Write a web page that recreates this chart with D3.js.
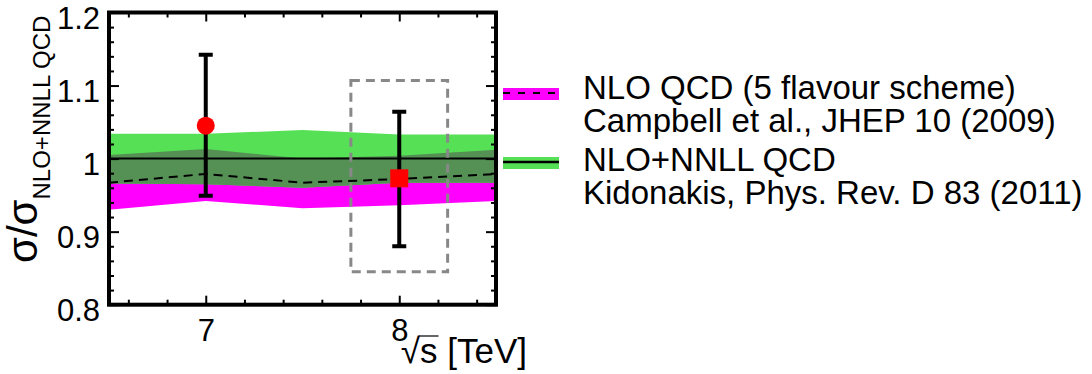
<!DOCTYPE html>
<html>
<head>
<meta charset="utf-8">
<script src="https://cdn.jsdelivr.net/npm/d3@7"></script>
<style>
  html, body { margin: 0; padding: 0; background: #fff; }
  svg { display: block; font-family: "Liberation Sans", Arial, Helvetica, sans-serif; }
</style>
</head>
<body>
<svg id="chart" width="1092" height="374"></svg>
<script>
// Centre-of-mass energies (TeV) at which the theory bands are evaluated
const energies = [6.5, 7, 7.5, 8, 8.5];

// NLO+NNLL QCD (Kidonakis) normalised to itself
const nnllCentral = [1.000, 1.000, 1.000, 1.000, 1.000];
const nnllUp      = [1.034, 1.034, 1.039, 1.033, 1.033];
const nnllDown    = [0.966, 0.965, 0.960, 0.967, 0.967];

// NLO QCD, 5 flavour scheme (Campbell et al.)
const nloCentral = [0.967, 0.979, 0.967, 0.972, 0.979];
const nloUp      = [1.005, 1.013, 1.000, 1.004, 1.012];
const nloDown    = [0.930, 0.942, 0.932, 0.936, 0.942];

// Measurements: ratio to NLO+NNLL with total uncertainty
const measEnergy = [7, 8];
const measValue  = [1.045, 0.973];
const measHigh   = [1.142, 1.064];
const measLow    = [0.949, 0.880];
const measShape  = ["circle", "square"];

// Highlight box around the 8 TeV result
const boxEnergy = [7.75, 8.25];
const boxRatio  = [0.845, 1.107];

// Axis ticks
const xMajor = [7, 8];
const xMinor = [6.6, 6.8, 7.2, 7.4, 7.6, 7.8, 8.2, 8.4];
const yMajor = [0.8, 0.9, 1.0, 1.1, 1.2];
const yMinor = [0.82, 0.84, 0.86, 0.88, 0.92, 0.94, 0.96, 0.98,
                1.02, 1.04, 1.06, 1.08, 1.12, 1.14, 1.16, 1.18];
const yTickText = ["0.8", "0.9", "1", "1.1", "1.2"];

// Legend entries
const legendLines = [
  ["NLO QCD (5 flavour scheme)", "Campbell et al., JHEP 10 (2009)"],
  ["NLO+NNLL QCD", "Kidonakis, Phys. Rev. D 83 (2011)"]
];

const COL_GREEN = "#55e055";
const COL_OVERLAP = "#559155";
const COL_MAGENTA = "#ff00ff";

const svg = d3.select("#chart");
const F = { left: 109, right: 496, top: 12.5, bottom: 304.7 };

const x = d3.scaleLinear().domain([6.5, 8.5]).range([F.left, F.right]);
const y = d3.scaleLinear().domain([0.8, 1.2]).range([F.bottom, F.top]);

const plot = svg.append("g");
svg.append("clipPath").attr("id", "frameClip")
  .append("rect").attr("x", F.left).attr("y", F.top)
  .attr("width", F.right - F.left).attr("height", F.bottom - F.top);
plot.attr("clip-path", "url(#frameClip)");

const rows = energies.map((e, i) => ({
  e, nnllUp: nnllUp[i], nnllDown: nnllDown[i], nnllC: nnllCentral[i],
  nloUp: nloUp[i], nloDown: nloDown[i], nloC: nloCentral[i]
}));

const band = (lo, hi) => d3.area().x(d => x(d.e)).y0(d => y(lo(d))).y1(d => y(hi(d)));
const line = f => d3.line().x(d => x(d.e)).y(d => y(f(d)));

// NLO band
plot.append("path").datum(rows).attr("fill", COL_MAGENTA)
  .attr("d", band(d => d.nloDown, d => d.nloUp));
// NLO+NNLL band
plot.append("path").datum(rows).attr("fill", COL_GREEN)
  .attr("d", band(d => d.nnllDown, d => d.nnllUp));
// Region where the two bands overlap
plot.append("path").datum(rows).attr("fill", COL_OVERLAP)
  .attr("d", band(d => Math.max(d.nnllDown, d.nloDown), d => Math.min(d.nnllUp, d.nloUp)));

// Central values
plot.append("path").datum(rows).attr("fill", "none").attr("stroke", "#000")
  .attr("stroke-width", 2).attr("d", line(d => d.nnllC));
plot.append("path").datum(rows).attr("fill", "none").attr("stroke", "#000")
  .attr("stroke-width", 2).attr("stroke-dasharray", "9,6").attr("d", line(d => d.nloC));

// Dashed box around the 8 TeV point
plot.append("rect")
  .attr("x", x(boxEnergy[0])).attr("y", y(boxRatio[1]))
  .attr("width", x(boxEnergy[1]) - x(boxEnergy[0]))
  .attr("height", y(boxRatio[0]) - y(boxRatio[1]))
  .attr("fill", "none").attr("stroke", "#888").attr("stroke-width", 3)
  .attr("stroke-dasharray", "9,6");

// Measurements with error bars
const meas = measEnergy.map((e, i) => ({ e, v: measValue[i], hi: measHigh[i], lo: measLow[i], shape: measShape[i] }));
const mg = plot.selectAll("g.meas").data(meas).join("g").attr("class", "meas");
mg.append("line").attr("x1", d => x(d.e)).attr("x2", d => x(d.e))
  .attr("y1", d => y(d.lo)).attr("y2", d => y(d.hi))
  .attr("stroke", "#000").attr("stroke-width", 4);
mg.append("line").attr("x1", d => x(d.e) - 7).attr("x2", d => x(d.e) + 7)
  .attr("y1", d => y(d.hi)).attr("y2", d => y(d.hi))
  .attr("stroke", "#000").attr("stroke-width", 4);
mg.append("line").attr("x1", d => x(d.e) - 7).attr("x2", d => x(d.e) + 7)
  .attr("y1", d => y(d.lo)).attr("y2", d => y(d.lo))
  .attr("stroke", "#000").attr("stroke-width", 4);
mg.filter(d => d.shape === "circle").append("circle")
  .attr("cx", d => x(d.e)).attr("cy", d => y(d.v)).attr("r", 9).attr("fill", "#ff0000");
mg.filter(d => d.shape === "square").append("rect")
  .attr("x", d => x(d.e) - 9).attr("y", d => y(d.v) - 9)
  .attr("width", 18).attr("height", 18).attr("fill", "#ff0000");

// Axes: ticks point inward on all four sides
function styleAxis(g) {
  g.select(".domain").remove();
  g.selectAll(".tick line").attr("stroke", "#000").attr("stroke-width", 2);
  g.selectAll(".tick text").attr("fill", "#000").attr("font-family", "Liberation Sans, Arial, sans-serif");
}
const ax = svg.append("g");
ax.append("g").attr("transform", `translate(0,${F.bottom})`)
  .call(d3.axisBottom(x).tickValues(xMajor).tickSize(-9).tickPadding(14).tickFormat(d3.format("d")))
  .call(styleAxis).call(g => g.selectAll(".tick text").attr("font-size", 31).attr("dy", "0.71em"));
ax.append("g").attr("transform", `translate(0,${F.bottom})`)
  .call(d3.axisBottom(x).tickValues(xMinor).tickSize(-5).tickFormat(""))
  .call(styleAxis);
ax.append("g").attr("transform", `translate(0,${F.top})`)
  .call(d3.axisTop(x).tickValues(xMajor).tickSize(-9).tickFormat(""))
  .call(styleAxis);
ax.append("g").attr("transform", `translate(0,${F.top})`)
  .call(d3.axisTop(x).tickValues(xMinor).tickSize(-5).tickFormat(""))
  .call(styleAxis);
ax.append("g").attr("transform", `translate(${F.left},0)`)
  .call(d3.axisLeft(y).tickValues(yMajor).tickSize(-10).tickPadding(9)
    .tickFormat((d, i) => yTickText[i]))
  .call(styleAxis).call(g => g.selectAll(".tick text").attr("font-size", 31).attr("dy", "0.5em"));
ax.append("g").attr("transform", `translate(${F.left},0)`)
  .call(d3.axisLeft(y).tickValues(yMinor).tickSize(-5).tickFormat(""))
  .call(styleAxis);
ax.append("g").attr("transform", `translate(${F.right},0)`)
  .call(d3.axisRight(y).tickValues(yMajor).tickSize(-10).tickFormat(""))
  .call(styleAxis);
ax.append("g").attr("transform", `translate(${F.right},0)`)
  .call(d3.axisRight(y).tickValues(yMinor).tickSize(-5).tickFormat(""))
  .call(styleAxis);

// Frame
svg.append("rect").attr("x", F.left).attr("y", F.top)
  .attr("width", F.right - F.left).attr("height", F.bottom - F.top)
  .attr("fill", "none").attr("stroke", "#000").attr("stroke-width", 4);

// X axis title: sqrt(s) [TeV]
const xtBase = 363;
const xt = svg.append("text").attr("x", 527).attr("y", xtBase)
  .attr("text-anchor", "end").attr("font-size", 35).attr("fill", "#000");
xt.append("tspan").text("√");
xt.append("tspan").text("s");
xt.append("tspan").text(" [TeV]");
{
  const node = xt.node();
  const start = node.getStartPositionOfChar(1).x;
  const end = node.getEndPositionOfChar(1).x;
  svg.append("line").attr("x1", start - 1).attr("x2", end + 1)
    .attr("y1", xtBase - 27).attr("y2", xtBase - 27)
    .attr("stroke", "#000").attr("stroke-width", 1.2);
}

// Y axis title: sigma / sigma_{NLO+NNLL QCD}
const yt = svg.append("text")
  .attr("transform", "translate(37,263) rotate(-90)")
  .attr("fill", "#000");
yt.append("tspan").attr("font-size", 42).text("σ/σ");
yt.append("tspan").attr("font-size", 24).attr("dy", 13).text("NLO+NNLL QCD");

// Legend
const lg = svg.append("g");
const lgX = 503, lgW = 56, textX = 583;
const entryTop = [99, 171];
const lineGap = 33;
const swatchY = [94, 163];

// NLO entry swatch: magenta band with dashed central line
lg.append("rect").attr("x", lgX).attr("y", swatchY[0] - 6).attr("width", lgW).attr("height", 12).attr("fill", COL_MAGENTA);
lg.append("line").attr("x1", lgX).attr("x2", lgX + lgW).attr("y1", swatchY[0] - 1).attr("y2", swatchY[0] - 1)
  .attr("stroke", "#000").attr("stroke-width", 2).attr("stroke-dasharray", "7,8");
// NLO+NNLL entry swatch: green band with solid central line
lg.append("rect").attr("x", lgX).attr("y", swatchY[1] - 6).attr("width", lgW).attr("height", 12).attr("fill", COL_GREEN);
lg.append("line").attr("x1", lgX).attr("x2", lgX + lgW).attr("y1", swatchY[1] - 1).attr("y2", swatchY[1] - 1)
  .attr("stroke", "#000").attr("stroke-width", 2.5);

legendLines.forEach((pair, k) => {
  pair.forEach((txt, j) => {
    lg.append("text").attr("x", textX).attr("y", entryTop[k] + j * lineGap)
      .attr("font-size", 33).attr("fill", "#000").text(txt);
  });
});
</script>
</body>
</html>
